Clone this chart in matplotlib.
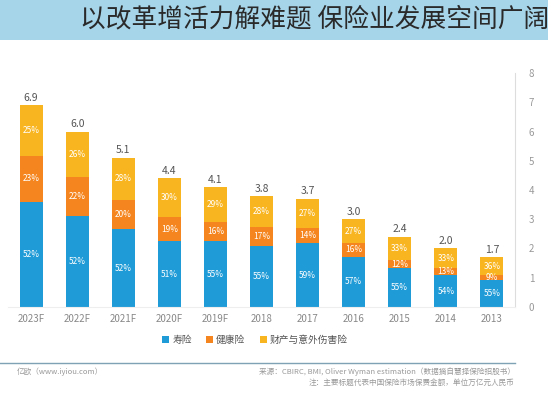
import matplotlib.pyplot as plt
import numpy as np

plt.rcParams['font.family'] = ['Noto Sans CJK SC', 'DejaVu Sans']

years = ['2013', '2014', '2015', '2016', '2017', '2018',
         '2019F', '2020F', '2021F', '2022F', '2023F']
totals = [1.7, 2.0, 2.4, 3.0, 3.7, 3.8, 4.1, 4.4, 5.1, 6.0, 6.9]
life_pct = [55, 54, 55, 57, 59, 55, 55, 51, 52, 52, 52]
health_pct = [9, 13, 12, 16, 14, 17, 16, 19, 20, 22, 23]
pc_pct = [36, 33, 33, 27, 27, 28, 29, 30, 28, 26, 25]
series_names = ['寿险', '健康险', '财产与意外伤害险']

title = '以改革增活力解难题 保险业发展空间广阔'
source_1 = '来源：CBIRC, BMI, Oliver Wyman estimation（数据摘自慧择保险招股书）'
source_2 = '注：主要标题代表中国保险市场保费金额，单位万亿元人民币'
brand = '亿欧（www.iyiou.com）'

colors = ['#1f9bd7', '#f5861f', '#f9b520']

fig = plt.figure(figsize=(5.48, 4.0), dpi=100)
fig.patch.set_facecolor('white')

# title banner
fig.patches.append(plt.Rectangle((0, 1 - 40 / 400), 1, 40 / 400,
                                 transform=fig.transFigure,
                                 facecolor='#a6d5ea', edgecolor='none'))
fig.text(80 / 548, 1 - 19 / 400, title, fontsize=18.5, color='#2a2a2a',
         fontweight='light', va='center', ha='left')

ax = fig.add_axes([8 / 548, 1 - 307 / 400, 507 / 548, 234 / 400])

x = np.arange(len(years))
tot = np.array(totals)
parts = [np.array(life_pct), np.array(health_pct), np.array(pc_pct)]
bottom = np.zeros(len(years))
for pct, c, name in zip(parts, colors, series_names):
    h = tot * pct / 100
    ax.bar(x, h, 0.5, bottom=bottom, color=c, label=name)
    for xi, b, hi, p in zip(x, bottom, h, pct):
        ax.text(xi, b + hi / 2, f'{p}%', ha='center', va='center',
                fontsize=6, color='white')
    bottom = bottom + h

for xi, t in zip(x, totals):
    ax.text(xi, t + 0.08, f'{t:.1f}', ha='center', va='bottom',
            fontsize=7.5, color='#555555')

ax.set_xlim(10.5, -0.5)
ax.set_ylim(0, 8)
ax.set_xticks(x)
ax.set_xticklabels(years, fontsize=7, color='#888888')
ax.set_yticks(range(9))
ax.yaxis.tick_right()
ax.tick_params(axis='y', labelsize=7, colors='#999999', length=0, pad=10)
ax.tick_params(axis='x', length=0, pad=5)
for s in ['top', 'left']:
    ax.spines[s].set_visible(False)
ax.spines['right'].set_color('#dddddd')
ax.spines['bottom'].set_color('#eeeeee')

fig.legend(loc='center', bbox_to_anchor=(255 / 548, 1 - 340 / 400), ncol=3,
           frameon=False, fontsize=7, handlelength=0.7, handleheight=0.7,
           columnspacing=1.5, handletextpad=0.3, labelcolor='#555555')

fig.add_artist(plt.Line2D([0, 515 / 548], [1 - 363 / 400] * 2,
                          transform=fig.transFigure, color='#7fa3b5', lw=1))
fig.text(515 / 548, 1 - 372 / 400, source_1, fontsize=5.5, color='#999999',
         ha='right', va='center')
fig.text(515 / 548, 1 - 383 / 400, source_2, fontsize=5.5, color='#999999',
         ha='right', va='center')
fig.text(103 / 548, 1 - 372 / 400, brand, fontsize=5.5, color='#999999',
         ha='right', va='center')

fig.savefig('out.png', dpi=100)
